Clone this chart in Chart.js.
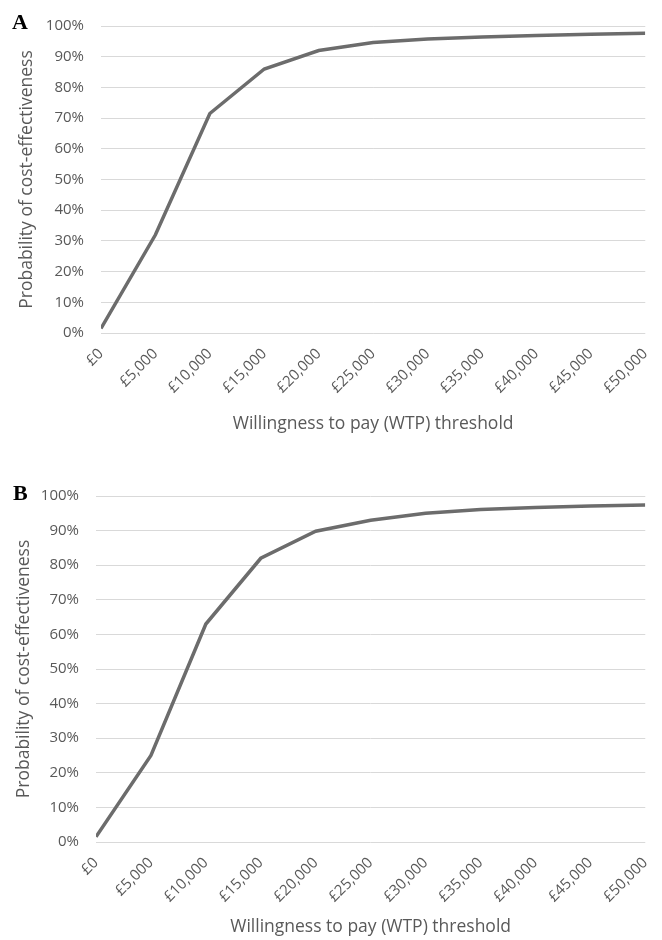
<!DOCTYPE html>
<html>
<head>
<meta charset="utf-8">
<script src="https://cdn.jsdelivr.net/npm/chart.js@4/dist/chart.umd.min.js"></script>
<style>
  body { margin: 0; background: #fff; }
  .panel { position: absolute; left: 0; width: 662px; }
  .tag { position: absolute; font: bold 22px "Liberation Serif", serif; color: #000; }
</style>
</head>
<body>
<div class="panel" style="top:0;height:445px"><canvas id="chartA" width="662" height="445"></canvas></div>
<div class="panel" style="top:470px;height:470px"><canvas id="chartB" width="662" height="470"></canvas></div>
<div class="tag" style="left:12px;top:9px">A</div>
<div class="tag" style="left:13px;top:480px">B</div>
<script>
const thresholds = [0, 5000, 10000, 15000, 20000, 25000, 30000, 35000, 40000, 45000, 50000];
const probA = [1.5, 32, 71.5, 86, 92, 94.6, 95.8, 96.4, 96.9, 97.3, 97.6];
const probB = [1.5, 25, 63, 82, 89.8, 93, 95, 96.1, 96.7, 97.1, 97.4];
const xTitle = 'Willingness to pay (WTP) threshold';
const yTitle = 'Probability of cost-effectiveness';

const grey = '#595959';
const font = 'Open Sans';

function drawCurve(id, values, box) {
    const ctx = document.getElementById(id).getContext('2d');
    new Chart(ctx, {
        type: 'line',
        data: {
            datasets: [{
                data: thresholds.map((t, i) => ({ x: t, y: values[i] })),
                borderColor: '#6c6c6c',
                borderWidth: 3.5,
                pointRadius: 0,
                tension: 0
            }]
        },
        options: {
            responsive: false,
            animation: false,
            layout: { padding: { top: box.top, right: box.right, bottom: box.bottom, left: 0 } },
            plugins: { legend: { display: false }, tooltip: { enabled: false } },
            scales: {
                x: {
                    type: 'linear',
                    min: 0,
                    max: 50000,
                    grid: { display: false },
                    border: { display: false },
                    ticks: {
                        stepSize: 5000,
                        autoSkip: false,
                        minRotation: 45,
                        maxRotation: 45,
                        padding: 4,
                        color: grey,
                        font: { family: font, size: 15 },
                        callback: v => '£' + v.toLocaleString('en-GB')
                    },
                    title: {
                        display: true,
                        text: xTitle,
                        color: grey,
                        font: { family: font, size: 17.5 },
                        padding: { top: 0, bottom: box.xTitlePad }
                    },
                    afterFit: s => { s.height = box.xHeight; }
                },
                y: {
                    min: 0,
                    max: 100,
                    grid: { color: '#d9d9d9', lineWidth: 1, drawTicks: false },
                    border: { display: false },
                    ticks: {
                        stepSize: 10,
                        padding: 17,
                        color: grey,
                        font: { family: font, size: 15 },
                        callback: v => v + '%'
                    },
                    title: {
                        display: true,
                        text: yTitle,
                        color: grey,
                        font: { family: font, size: 17.5 },
                        padding: { top: box.yTitlePad, bottom: 0 }
                    },
                    afterFit: s => { s.width = box.yWidth; }
                }
            }
        }
    });
}

drawCurve('chartA', probA, { top: 19, right: 14, bottom: 0, xHeight: 112, xTitlePad: 10.5, yWidth: 101, yTitlePad: 16.5 });
drawCurve('chartB', probB, { top: 23, right: 11, bottom: 0, xHeight: 98, xTitlePad: 2.5, yWidth: 96, yTitlePad: 13.5 });
</script>
</body>
</html>
